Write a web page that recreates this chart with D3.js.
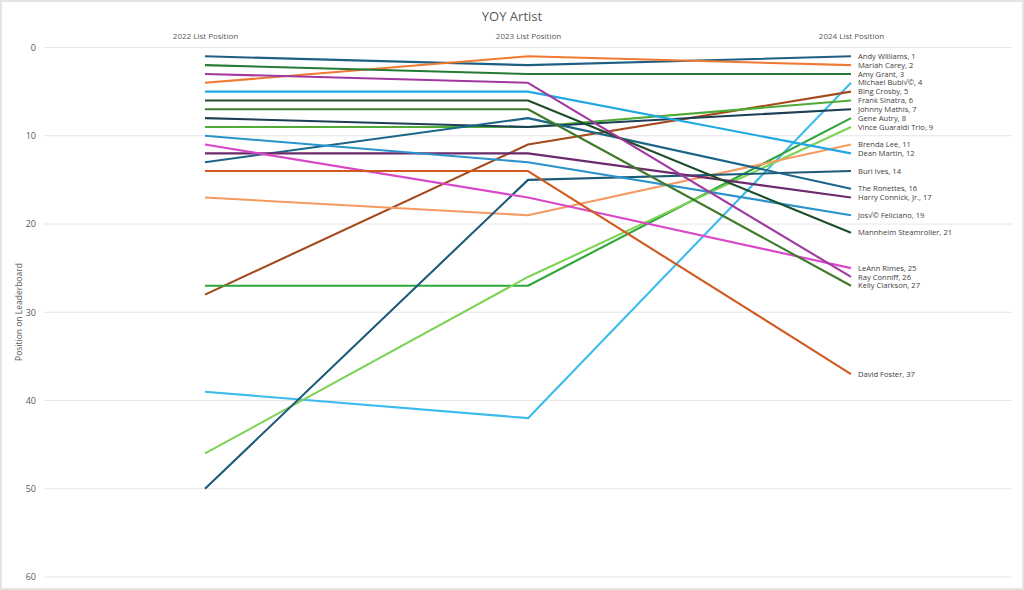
<!DOCTYPE html>
<html><head><meta charset="utf-8">
<script src="https://cdn.jsdelivr.net/npm/d3@7"></script>
<style>
html,body{margin:0;padding:0;background:#fff;}
svg{display:block;font-family:"Open Sans","Noto Sans",sans-serif;}
</style></head>
<body>
<svg id="chart" width="1024" height="590"></svg>
<script>
const years = ["2022 List Position","2023 List Position","2024 List Position"];
const artists = ["Andy Williams","Mariah Carey","Amy Grant","Michael Bubl√©","Bing Crosby","Frank Sinatra","Johnny Mathis","Gene Autry","Vince Guaraldi Trio","Brenda Lee","Dean Martin","Burl Ives","The Ronettes","Harry Connick, Jr.","Jos√© Feliciano","Mannheim Steamroller","LeAnn Rimes","Ray Conniff","Kelly Clarkson","David Foster"];
const pos2022 = [1,4,2,39,28,9,8,27,46,17,5,50,13,12,10,6,11,3,7,14];
const pos2023 = [2,1,3,42,11,9,9,27,26,19,5,15,8,12,13,6,17,4,7,14];
const pos2024 = [1,2,3,4,5,6,7,8,9,11,12,14,16,17,19,21,25,26,27,37];
const yTicks = [0,10,20,30,40,50,60];
const palette = ["#1f5f82","#f07a32","#247a34","#3dbbec","#a4491c","#4fab36","#1c3f57","#2fa63b","#7ed356","#f69a62","#1fa8e3","#1c5a7a","#1b6688","#6b2a6b","#2b93cb","#1e4d2a","#d848c9","#a2389f","#3f7a2b","#d0591f"];

const svg = d3.select("#chart");
const W = 1024, H = 590;
svg.append("rect").attr("x",1).attr("y",1).attr("width",W-2).attr("height",H-2)
  .attr("fill","#fff").attr("stroke","#e4e4e4").attr("stroke-width",2);

const x = d3.scalePoint().domain(years).range([205,851]);
const y = d3.scaleLinear().domain([0,60]).range([47.5,577]);

// gridlines
svg.append("g").selectAll("line").data(yTicks).join("line")
  .attr("x1",44).attr("x2",1012)
  .attr("y1",d=>y(d)).attr("y2",d=>y(d))
  .attr("stroke","#e6e6e6").attr("stroke-width",1);

// y axis labels
const yAxis = d3.axisLeft(y).tickValues(yTicks).tickSize(0).tickPadding(0);
const gy = svg.append("g").attr("transform","translate(36,0)").call(yAxis);
gy.select(".domain").remove();
gy.selectAll("text").attr("fill","#595959").attr("font-size","9px").attr("font-family","Open Sans, sans-serif");

// top column headers
const xAxis = d3.axisTop(x).tickSize(0).tickPadding(0);
const gx = svg.append("g").attr("transform","translate(0,39)").call(xAxis);
gx.select(".domain").remove();
gx.selectAll("text").attr("fill","#595959").attr("font-size","8px").attr("font-family","Open Sans, sans-serif");

// title
svg.append("text").attr("x",512).attr("y",21).attr("text-anchor","middle")
  .attr("font-size","13px").attr("fill","#595959").text("YOY Artist");

// y axis title
svg.append("text").attr("transform","translate(22,312) rotate(-90)")
  .attr("text-anchor","middle").attr("font-size","8.5px").attr("fill","#595959")
  .text("Position on Leaderboard");

const series = artists.map((a,i)=>({name:a,color:palette[i],
  vals:[pos2022[i],pos2023[i],pos2024[i]]}));

const line = d3.line().x((d,i)=>x(years[i])).y(d=>y(d));

svg.append("g").selectAll("path").data(series).join("path")
  .attr("d",d=>line(d.vals)).attr("fill","none")
  .attr("stroke",d=>d.color).attr("stroke-width",2.1)
  .attr("stroke-linejoin","round");

// end labels
svg.append("g").selectAll("text").data(series).join("text")
  .attr("x",x(years[2])+7).attr("y",d=>y(d.vals[2]))
  .attr("dy","0.35em").attr("font-size","7.6px").attr("fill","#404040")
  .text(d=>d.name+", "+d.vals[2]);
</script>
</body></html>
